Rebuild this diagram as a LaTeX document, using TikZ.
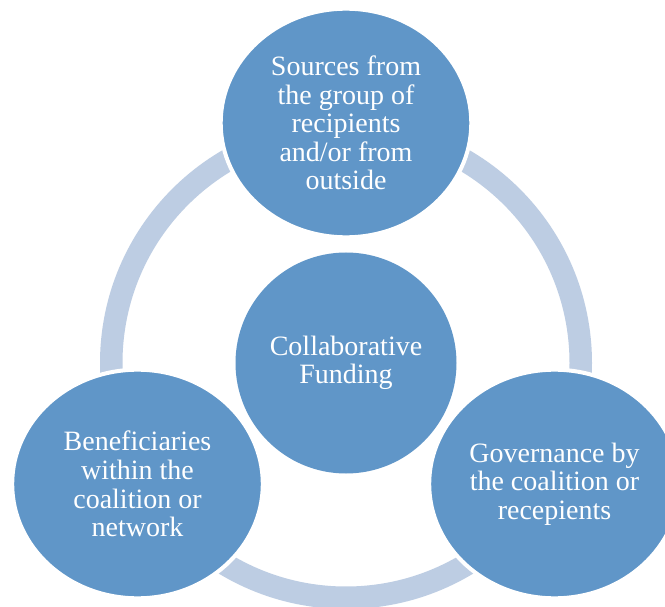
\documentclass[tikz,border=0pt]{standalone}
\usepackage{fontspec}
\setmainfont{Liberation Serif}
\usetikzlibrary{shapes.geometric}
\definecolor{discblue}{RGB}{96,150,200}
\definecolor{ringblue}{RGB}{189,205,227}
\begin{document}
\begin{tikzpicture}[x=1pt,y=-1pt,
  ringband/.style={draw=ringblue, line width=22.5pt},
  outerdisc/.style={ellipse, fill=discblue, draw=white, line width=4pt,
    minimum width=250.6pt, minimum height=228.6pt, inner sep=0pt,
    text=white, align=center, font=\fontsize{28}{28.6}\selectfont},
  hubdisc/.style={circle, fill=discblue, minimum size=221pt, inner sep=0pt,
    text=white, align=center, font=\fontsize{28}{28.6}\selectfont}]
  \useasboundingbox (0,0) rectangle (665,607);
  \clip (0,0) rectangle (665,607);
  \fill[white] (0,0) rectangle (665,607);
  % cycle band behind the three outer discs
  \draw[ringband] (346,363) circle (234.75);
  % outer discs
  \node[outerdisc] (src) at (346,123)
    {Sources from\\the group of\\recipients\\and/or from\\outside};
  \node[outerdisc] (ben) at (137.5,484)
    {Beneficiaries\\within the\\coalition or\\network};
  \node[outerdisc] (gov) at (554.5,484)
    {Governance by\\the coalition or\\recepients};
  % central disc
  \node[hubdisc] (hub) at (346,363) {Collaborative\\Funding};
\end{tikzpicture}
\end{document}
